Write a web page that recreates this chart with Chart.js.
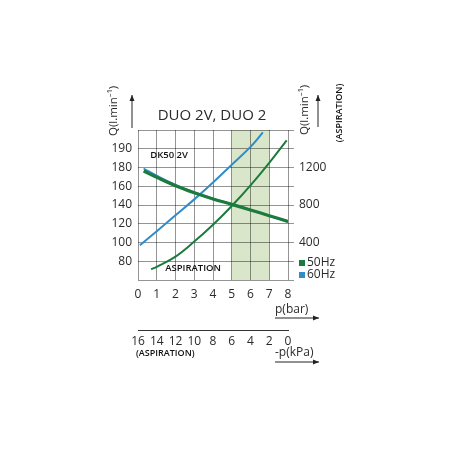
<!DOCTYPE html>
<html>
<head>
<meta charset="utf-8">
<script src="https://cdn.jsdelivr.net/npm/chart.js@4/dist/chart.umd.min.js"></script>
<style>
  html, body { margin: 0; padding: 0; background: #fff; }
  #wrap { width: 450px; height: 450px; }
</style>
</head>
<body>
<div id="wrap"><canvas id="chart" width="450" height="450"></canvas></div>
<script>
// pressure p(bar) on x, flow Q (l/min) on y
const dk50Bar = [0.3, 1, 2, 3, 4, 5, 6, 7, 8];
const dk50Hz50 = [176.3, 169.5, 160.5, 153, 146.5, 140.7, 134.7, 128.6, 122.4];
const dk50Hz60 = [179, 171.3, 161.5, 153.5, 146.8, 140.9, 134.8, 128.5, 121.8];

const duoBar = [0.1, 1, 2, 3, 4, 5, 6, 6.66];
const duoHz60 = [97, 112, 129, 146, 164, 183, 202, 217.5];

const aspBar = [0.7, 1, 2, 3, 4, 5, 6, 7, 7.93];
const aspHz50 = [71.5, 74, 85, 101, 119, 139, 161, 185, 209];

const bandBar = [5, 7];
const yTickLabels = { 80: '80', 100: '100', 120: '120', 140: '140', 160: '160', 180: '180', 200: '190' };
const rightTicks = [400, 800, 1200];
const legendItems = ['50Hz', '60Hz'];

const GREEN = '#1b7b3c';
const BLUE = '#2f8cc8';
const TXT = '#2a2a2a';
const FONT = '"Open Sans", "Noto Sans", sans-serif';

const pts = (xs, ys) => xs.map((x, i) => ({ x: x, y: ys[i] }));

function arrow(ctx, x1, y1, x2, y2) {
    ctx.save();
    ctx.strokeStyle = '#222';
    ctx.fillStyle = '#222';
    ctx.lineWidth = 1;
    ctx.beginPath();
    ctx.moveTo(x1, y1);
    ctx.lineTo(x2, y2);
    ctx.stroke();
    const a = Math.atan2(y2 - y1, x2 - x1);
    ctx.beginPath();
    ctx.moveTo(x2, y2);
    ctx.lineTo(x2 - 6 * Math.cos(a) + 2.5 * Math.sin(a), y2 - 6 * Math.sin(a) - 2.5 * Math.cos(a));
    ctx.lineTo(x2 - 6 * Math.cos(a) - 2.5 * Math.sin(a), y2 - 6 * Math.sin(a) + 2.5 * Math.cos(a));
    ctx.closePath();
    ctx.fill();
    ctx.restore();
}

function vText(ctx, txt, x, y, font) {
    ctx.save();
    ctx.translate(x, y);
    ctx.rotate(-Math.PI / 2);
    ctx.font = font;
    ctx.textAlign = 'center';
    ctx.textBaseline = 'middle';
    ctx.fillText(txt, 0, 0);
    ctx.restore();
}

// green band between 5 and 7 bar, under the grid
const bandPlugin = {
    id: 'band',
    beforeDraw(chart) {
        const { ctx, chartArea, scales } = chart;
        const x1 = scales.x.getPixelForValue(bandBar[0]);
        const x2 = scales.x.getPixelForValue(bandBar[1]);
        ctx.save();
        ctx.fillStyle = '#d9e6c9';
        ctx.fillRect(x1, chartArea.top, x2 - x1, chartArea.bottom - chartArea.top);
        ctx.restore();
    }
};

// titles, arrows, notes and the little legend
const textPlugin = {
    id: 'texts',
    afterDraw(chart) {
        const { ctx, chartArea, scales } = chart;
        const L = chartArea.left, R = chartArea.right, T = chartArea.top, B = chartArea.bottom;
        ctx.save();
        ctx.fillStyle = TXT;
        ctx.textBaseline = 'middle';

        ctx.font = '15px ' + FONT;
        ctx.textAlign = 'center';
        ctx.fillText('DUO 2V, DUO 2', (L + R) / 2 - 1, T - 14);

        vText(ctx, 'Q(l.min\u207B\u00B9)', L - 24, T - 19, '11.5px ' + FONT);
        arrow(ctx, L - 6, T - 2, L - 6, T - 35);
        vText(ctx, 'Q(l.min\u207B\u00B9)', R + 17, T - 20, '11.5px ' + FONT);
        arrow(ctx, R + 30, T - 3, R + 30, T - 35);
        ctx.fillStyle = '#111';
        vText(ctx, '(ASPIRATION)', R + 51, T - 17, '600 9px ' + FONT);

        ctx.font = '600 9.5px ' + FONT;
        ctx.textAlign = 'left';
        ctx.fillText('DK50 2V', scales.x.getPixelForValue(0.65), scales.y.getPixelForValue(193));
        ctx.fillText('ASPIRATION', scales.x.getPixelForValue(1.45), scales.y.getPixelForValue(73));
        ctx.font = '600 9px ' + FONT;
        ctx.fillText('(ASPIRATION)', L - 2, B + 73);

        ctx.fillStyle = TXT;
        ctx.font = '12px ' + FONT;
        ctx.fillText('p(bar)', R - 13, B + 30);
        arrow(ctx, R - 13, B + 38, R + 31, B + 38);
        ctx.fillText('-p(kPa)', R - 13, B + 73);
        arrow(ctx, R - 13, B + 82, R + 31, B + 82);

        const cols = [GREEN, BLUE];
        legendItems.forEach((t, i) => {
            const y = B - 17 + i * 12;
            ctx.fillStyle = cols[i];
            ctx.fillRect(R + 11, y - 3, 6, 6);
            ctx.fillStyle = TXT;
            ctx.fillText(t, R + 19, y);
        });
        ctx.restore();
    }
};

const gridCol = 'rgba(0,0,0,0.42)';
const tickFont = { family: FONT, size: 12 };

new Chart(document.getElementById('chart'), {
    type: 'line',
    data: {
        datasets: [
            { label: 'DK50 50Hz', data: pts(dk50Bar, dk50Hz50), borderColor: GREEN, borderWidth: 3.2 },
            { label: 'DK50 60Hz', data: pts(dk50Bar, dk50Hz60), borderColor: BLUE, borderWidth: 1.8 },
            { label: 'DUO 60Hz', data: pts(duoBar, duoHz60), borderColor: BLUE, borderWidth: 2 },
            { label: 'Aspiration 50Hz', data: pts(aspBar, aspHz50), borderColor: GREEN, borderWidth: 2 }
        ]
    },
    options: {
        responsive: false,
        animation: false,
        elements: { point: { radius: 0 }, line: { tension: 0.4, fill: false } },
        layout: { padding: { top: 130, left: 0, right: 0, bottom: 0 } },
        plugins: { legend: { display: false }, tooltip: { enabled: false } },
        scales: {
            x: {
                type: 'linear', position: 'bottom', min: 0, max: 8,
                ticks: { stepSize: 1, padding: 7, color: TXT, font: tickFont, autoSkip: false, maxRotation: 0 },
                grid: { color: gridCol, drawTicks: false },
                border: { display: false },
                afterFit(s) { s.height = 50; }
            },
            x2: {
                type: 'linear', position: 'bottom', min: 0, max: 16, reverse: true,
                ticks: { stepSize: 2, padding: 4, color: TXT, font: tickFont, autoSkip: false, maxRotation: 0, minRotation: 0 },
                grid: { drawOnChartArea: false, drawTicks: false },
                border: { display: true, color: '#333', width: 1 },
                afterFit(s) { s.height = 120; }
            },
            y: {
                type: 'linear', position: 'left', min: 60, max: 220,
                ticks: {
                    stepSize: 20, padding: 6, color: TXT, font: tickFont,
                    callback: v => yTickLabels[v] || ''
                },
                grid: { color: gridCol, drawTicks: false },
                border: { display: false },
                afterFit(s) { s.width = 138; }
            },
            y2: {
                type: 'linear', position: 'right', min: 0, max: 1600,
                ticks: {
                    stepSize: 200, padding: 5, color: TXT, font: tickFont,
                    callback: v => rightTicks.includes(v) ? String(v) : ''
                },
                grid: { drawOnChartArea: false, drawTicks: true, tickLength: 6, color: gridCol },
                border: { display: false },
                afterFit(s) { s.width = 162; }
            }
        }
    },
    plugins: [bandPlugin, textPlugin]
});
</script>
</body>
</html>
